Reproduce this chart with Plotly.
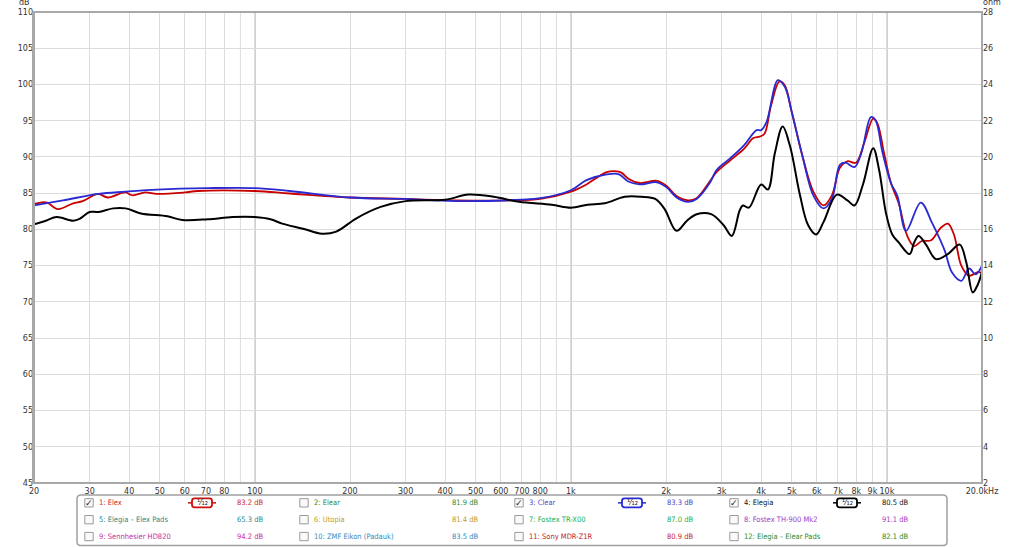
import plotly.graph_objects as go

# ---------------- data ----------------
freq_elex = [20, 21, 22, 23.8, 26.6, 28.5, 31.9, 34.2, 38.9, 41, 45, 49, 60, 66, 100, 129, 200, 300, 433, 640, 800,
             1000, 1120, 1300, 1400, 1450, 1520, 1650, 1870, 2010, 2160, 2350, 2500, 2760, 2890, 3190, 3530, 3780,
             3960, 4100, 4300, 4570, 4750, 5000, 5400, 5850, 6300, 6700, 7100, 7500, 7980, 8470, 9050, 9340, 9800,
             10300, 10900, 11600, 12200, 12900, 13800, 14800, 15600, 16300, 17200, 18200, 19400, 20000]
db_elex = [83.5, 83.7, 83.7, 82.8, 83.6, 83.9, 84.9, 84.4, 85.1, 84.7, 85.1, 84.9, 85.1, 85.3, 85.3, 84.95, 84.4, 84.2,
           84.0, 84.0, 84.2, 85.2, 86.2, 87.9, 88.0, 87.8, 87.0, 86.4, 86.7, 86.0, 84.6, 84.0, 84.3, 86.7, 87.9, 89.5,
           91.1, 92.6, 92.8, 93.2, 97.1, 100.4, 99.9, 96.2, 90.2, 85.2, 83.3, 84.7, 88.5, 89.4, 89.2, 91.9, 95.3, 94.6,
           90.5, 86.4, 83.6, 79.1, 77.7, 78.4, 78.5, 80.2, 80.8, 79.3, 75.0, 73.6, 74.1, 74.0]

freq_clear = [20, 24.7, 32, 39, 49, 71, 100, 129, 200, 300, 433, 700, 800, 1000, 1120, 1300, 1420, 1520, 1650, 1870,
              2010, 2160, 2350, 2500, 2760, 2890, 3190, 3530, 3870, 4000, 4160, 4520, 4750, 5000, 5400, 5850, 6300,
              6700, 7100, 7400, 7900, 8300, 8900, 9200, 9700, 10300, 10800, 11500, 12800, 13900, 15200, 16100,
              17200, 18200, 19100, 20000]
db_clear = [83.3, 84.0, 84.9, 85.2, 85.5, 85.7, 85.7, 85.3, 84.4, 84.2, 83.9, 84.1, 84.3, 85.4, 86.8, 87.6, 87.6, 86.6,
            86.2, 86.5, 85.8, 84.4, 83.8, 84.2, 86.5, 88.2, 89.8, 91.6, 93.7, 93.7, 94.8, 100.6, 99.7, 96.2, 90.2,
            84.7, 82.9, 84.2, 88.9, 89.2, 88.6, 90.5, 95.5, 95.1, 90.5, 86.4, 84.6, 79.8, 83.7, 80.9, 77.2, 74.0,
            72.9, 74.6, 73.8, 75.0]

freq_elegia = [20, 21.8, 23.6, 26.6, 28, 30, 32, 35.6, 39, 43.6, 52.9, 59, 71, 85, 100, 112, 122, 142, 163, 181, 209,
               250, 300, 400, 474, 570, 685, 870, 1000, 1130, 1280, 1480, 1670, 1850, 1980, 2160, 2330, 2500, 2780,
               3040, 3230, 3420, 3500, 3660, 4000, 4200, 4420, 4680, 4930, 5310, 5630, 5970, 6300, 6950, 7500, 7900,
               8400, 9050, 9450, 9930, 10400, 10900, 11800, 12200, 12600, 13300, 14300, 15600, 17000, 17800, 18700,
               19400, 20000]
db_elegia = [80.7, 81.2, 81.7, 81.2, 81.5, 82.4, 82.4, 82.9, 82.9, 82.2, 81.8, 81.3, 81.4, 81.7, 81.7, 81.4, 80.8,
             80.1, 79.4, 79.7, 81.5, 83.1, 83.9, 84.1, 84.8, 84.5, 83.8, 83.4, 83.0, 83.4, 83.6, 84.5, 84.5, 84.2,
             82.8, 79.8, 81.2, 82.1, 82.1, 80.6, 79.1, 82.6, 83.3, 83.0, 86.2, 85.5, 90.5, 94.2, 91.6, 84.7, 80.6,
             79.3, 81.0, 84.8, 84.0, 83.3, 86.2, 91.2, 88.2, 82.3, 79.3, 78.2, 76.6, 78.2, 79.1, 77.9, 75.9, 76.6,
             77.9, 75.6, 71.3, 72.4, 74.1]

x_tickvals = [20, 30, 40, 50, 60, 70, 80, 100, 200, 300, 400, 500, 600, 700, 800,
              1000, 2000, 3000, 4000, 5000, 6000, 7000, 8000, 9000, 10000, 20000]
x_ticktext = ['20', '30', '40', '50', '60', '70', '80', '100', '200', '300', '400', '500', '600', '700', '800',
              '1k', '2k', '3k', '4k', '5k', '6k', '7k', '8k', '9k', '10k', '20.0kHz']
x_unlabelled_grid = [90, 900]
x_decades = [100, 1000, 10000]
y_ticks_db = list(range(45, 111, 5))
y_ticks_ohm = list(range(2, 29, 2))

legend_names = ['1: Elex', '2: Elear', '3: Clear', '4: Elegia',
                '5: Elegia – Elex Pads', '6: Utopia', '7: Fostex TR-X00', '8: Fostex TH-900 Mk2',
                '9: Sennhesier HD820', '10: ZMF Eikon (Padauk)', '11: Sony MDR-Z1R', '12: Elegia – Elear Pads']
legend_values = ['83.2 dB', '81.9 dB', '83.3 dB', '80.5 dB',
                 '65.3 dB', '81.4 dB', '87.0 dB', '91.1 dB',
                 '94.2 dB', '83.5 dB', '80.9 dB', '82.1 dB']
legend_colors = ['#cc2a2a', '#2f8a2f', '#4a4ac8', '#111111',
                 '#1f8a8a', '#c49a1e', '#22b04e', '#a03cc8',
                 '#c82e9c', '#2f8cc0', '#c21f30', '#2f8a22']
legend_checked = [True, False, True, True, False, False, False, False, False, False, False, False]

# ---------------- geometry (pixels) ----------------
L, R, T, B = 34, 982, 8, 483
W, H = R - L, B - T


def px(x):
    return (x - L) / W


def py(y):
    return (B - y) / H


fig = go.Figure()

curves = [
    (freq_elex, db_elex, '#c80000', 1.8),
    (freq_clear, db_clear, '#2a2ad2', 1.8),
    (freq_elegia, db_elegia, '#000000', 2.0),
]
for f, d, c, w in curves:
    fig.add_trace(go.Scatter(x=f, y=d, mode='lines',
                             line=dict(color=c, width=w, shape='spline', smoothing=1.0),
                             showlegend=False, hoverinfo='skip'))

# empty trace to attach the right (ohm) axis
fig.add_trace(go.Scatter(x=[], y=[], yaxis='y2', showlegend=False, hoverinfo='skip'))

shapes = []
for v in x_unlabelled_grid:
    shapes.append(dict(type='line', xref='x', yref='paper', x0=v, x1=v, y0=0, y1=1,
                       line=dict(color='#dcdcdc', width=1), layer='below'))
for v in x_decades:
    shapes.append(dict(type='line', xref='x', yref='paper', x0=v, x1=v, y0=0, y1=1,
                       line=dict(color='#b4b4b4', width=1.5), layer='below'))
# frame
shapes.append(dict(type='rect', xref='paper', yref='paper', x0=0, x1=1, y0=0, y1=1,
                   line=dict(color='#a8a8a8', width=2)))
shapes.append(dict(type='line', xref='paper', yref='paper', x0=px(33.5), x1=px(33.5), y0=0, y1=1,
                   line=dict(color='#a8a8a8', width=3)))

annotations = []
annotations.append(dict(text='dB', xref='paper', yref='paper', x=px(24), y=py(4), showarrow=False,
                        xanchor='center', yanchor='bottom', borderpad=0,
                        font=dict(family='DejaVu Sans', size=8, color='#333')))
annotations.append(dict(text='ohm', xref='paper', yref='paper', x=px(992), y=py(4), showarrow=False,
                        xanchor='center', yanchor='bottom', borderpad=0,
                        font=dict(family='DejaVu Sans', size=8, color='#333')))

# legend panel
bx0, bx1, by0, by1, rr = 77, 947, 495, 546, 4
path = (f"M {px(bx0+rr)} {py(by0)} L {px(bx1-rr)} {py(by0)} Q {px(bx1)} {py(by0)} {px(bx1)} {py(by0+rr)} "
        f"L {px(bx1)} {py(by1-rr)} Q {px(bx1)} {py(by1)} {px(bx1-rr)} {py(by1)} "
        f"L {px(bx0+rr)} {py(by1)} Q {px(bx0)} {py(by1)} {px(bx0)} {py(by1-rr)} "
        f"L {px(bx0)} {py(by0+rr)} Q {px(bx0)} {py(by0)} {px(bx0+rr)} {py(by0)} Z")
shapes.append(dict(type='path', xref='paper', yref='paper', path=path,
                   line=dict(color='#a0a0a0', width=1.5), fillcolor='white'))

legend_font = 'DejaVu Sans Condensed, DejaVu Sans'
row_y = [503, 520, 537]
col_step = 215
for i, name in enumerate(legend_names):
    r, c = divmod(i, 4)
    cy = row_y[r]
    cbx = 89 + c * col_step
    s = 4.2
    shapes.append(dict(type='rect', xref='paper', yref='paper', x0=px(cbx - s), x1=px(cbx + s),
                       y0=py(cy + s), y1=py(cy - s), line=dict(color='#9a9a9a', width=1), fillcolor='#fafafa'))
    if legend_checked[i]:
        annotations.append(dict(text='✓', xref='paper', yref='paper', x=px(cbx), y=py(cy), showarrow=False,
                                xanchor='center', yanchor='middle', borderpad=0,
                                font=dict(family='DejaVu Sans', size=9, color='#222')))
    color = legend_colors[i]
    annotations.append(dict(text=name, xref='paper', yref='paper', x=px(97 + c * col_step), y=py(cy),
                            showarrow=False, xanchor='left', yanchor='middle',
                            font=dict(family=legend_font, size=7.5, color=color)))
    annotations.append(dict(text=legend_values[i], xref='paper', yref='paper', x=px(264.5 + c * col_step), y=py(cy),
                            showarrow=False, xanchor='right', yanchor='middle',
                            font=dict(family=legend_font, size=7.5, color=color)))
    if legend_checked[i]:
        icx = 202 + c * col_step
        hw, hh, rc = 10, 4.5, 2.5
        ipath = (f"M {px(icx-hw+rc)} {py(cy-hh)} L {px(icx+hw-rc)} {py(cy-hh)} "
                 f"Q {px(icx+hw)} {py(cy-hh)} {px(icx+hw)} {py(cy-hh+rc)} L {px(icx+hw)} {py(cy+hh-rc)} "
                 f"Q {px(icx+hw)} {py(cy+hh)} {px(icx+hw-rc)} {py(cy+hh)} L {px(icx-hw+rc)} {py(cy+hh)} "
                 f"Q {px(icx-hw)} {py(cy+hh)} {px(icx-hw)} {py(cy+hh-rc)} L {px(icx-hw)} {py(cy-hh+rc)} "
                 f"Q {px(icx-hw)} {py(cy-hh)} {px(icx-hw+rc)} {py(cy-hh)} Z")
        icol = {0: '#cc1111', 2: '#2a2ad2', 3: '#000000'}[c]
        shapes.append(dict(type='path', xref='paper', yref='paper', path=ipath,
                           line=dict(color=icol, width=1.8), fillcolor='white'))
        for x0, x1 in [(icx - hw - 4, icx - hw), (icx + hw, icx + hw + 4)]:
            shapes.append(dict(type='line', xref='paper', yref='paper', x0=px(x0), x1=px(x1),
                               y0=py(cy), y1=py(cy), line=dict(color=icol, width=1.5)))
        annotations.append(dict(text='¹⁄₁₂', xref='paper', yref='paper', x=px(icx),
                                y=py(cy), showarrow=False, xanchor='center', yanchor='middle', borderpad=0,
                                font=dict(family='DejaVu Sans', size=8, color='#222')))

tickfont = dict(family='DejaVu Sans', size=8, color='#333')
fig.update_layout(
    width=1024, height=547,
    margin=dict(l=L, r=1024 - R, t=T, b=547 - B),
    paper_bgcolor='white', plot_bgcolor='white',
    xaxis=dict(type='log', range=[1.30103, 4.30103], tickvals=x_tickvals, ticktext=x_ticktext,
               showgrid=True, gridcolor='#dcdcdc', gridwidth=1, zeroline=False, showline=False,
               ticks='', tickfont=tickfont, tickangle=0, ticklabelstandoff=2),
    yaxis=dict(range=[45, 110], tickvals=y_ticks_db, showgrid=True, gridcolor='#dcdcdc', gridwidth=1,
               zeroline=False, showline=False, ticks='', tickfont=tickfont),
    yaxis2=dict(range=[2, 28], tickvals=y_ticks_ohm, overlaying='y', side='right', showgrid=False,
                zeroline=False, showline=False, ticks='', tickfont=tickfont),
    shapes=shapes, annotations=annotations,
    showlegend=False,
)

fig.write_html('out.html')
